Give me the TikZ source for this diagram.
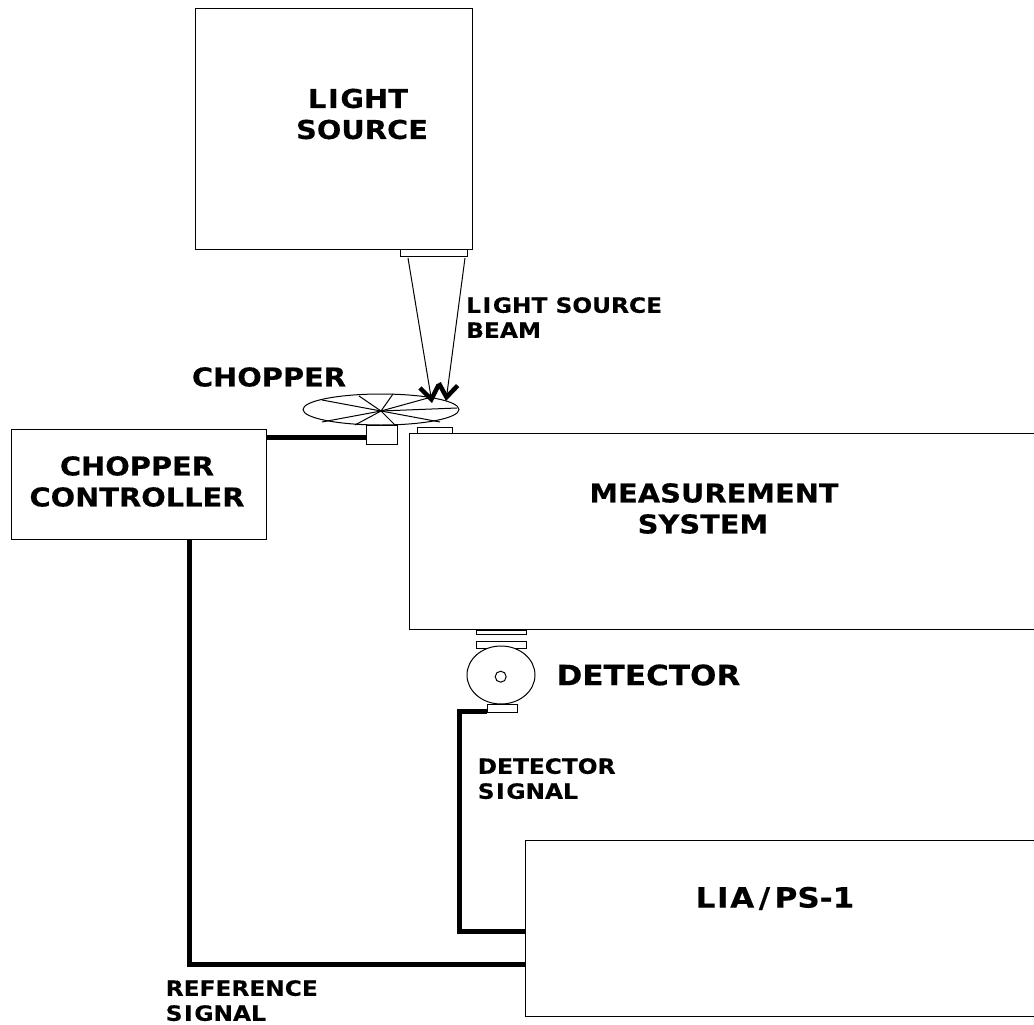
\documentclass[tikz,border=0pt]{standalone}
\usepackage{fontspec}
\setmainfont{DejaVu Sans}[FakeStretch=1.11,BoldFont={DejaVu Sans Bold},BoldFeatures={FakeBold=0.3}]
\usetikzlibrary{arrows.meta,shapes.geometric}
\newcommand{\Ik}{\kern1.6pt I\kern1.6pt }
\tikzset{
  x=1pt,y=-1pt,
  boxn/.style={draw=black,line width=1pt,fill=white,rectangle,inner sep=0pt,minimum width=#1},
  boxh/.style={minimum height=#1},
  roundn/.style={draw=black,line width=1pt,fill=white,ellipse,inner sep=0pt},
  biglabel/.style={font=\fontsize{26}{31}\selectfont\bfseries,align=center,inner sep=0pt},
  hugelabel/.style={font=\fontsize{28}{32}\selectfont\bfseries,align=center,inner sep=0pt},
  smalllabel/.style={font=\fontsize{21}{25}\selectfont\bfseries,align=left,inner sep=0pt,anchor=north west},
  wire/.style={line width=5pt,line cap=butt,line join=miter},
  beam/.style={line width=1pt,-{Straight Barb[length=13pt,width=19pt,line width=4.5pt]}},
  spoke/.style={line width=1pt}
}
\begin{document}
\begin{tikzpicture}
\useasboundingbox (0,0) rectangle (1034,1025);
% main boxes
\node[boxn=277pt,boxh=240pt] (source) at (333.5,129) {};
\node[boxn=255pt,boxh=110pt] (ctrl) at (138.5,484) {};
\node[boxn=640pt,boxh=196pt] (meas) at (729,531) {};
\node[boxn=524pt,boxh=176pt] (lia) at (787,928) {};
% labels
\node[biglabel] (tsource) at (362,114) {L\Ik GHT\hspace*{8pt}\\SOURCE};
\node[biglabel] (tctrl) at (137,481.5) {CHOPPER\\CONTROLLER};
\node[biglabel] (tmeas) at (714,508.5) {MEASUREMENT\\SYSTEM\hspace*{22pt}};
\node[hugelabel] (tlia) at (775,898.5) {L\Ik A\kern4.5pt/\kern4.5pt PS-1};
\node[biglabel] (tchop) at (269,377) {CHOPPER};
\node[hugelabel] (tdet) at (648.5,675) {DETECTOR};
\node[smalllabel] (tbeam) at (466,297) {L\Ik GHT SOURCE\\BEAM};
\node[smalllabel] (tdsig) at (477.5,758) {DETECTOR\\S\Ik GNAL};
\node[smalllabel] (trsig) at (165.5,980) {REFERENCE\\S\Ik GNAL};
% window of source
\node[boxn=67pt,boxh=7pt] (win) at (433.5,252.5) {};
% chopper
\node[roundn,minimum width=156pt,minimum height=31pt] (disc) at (381,409.5) {};
\coordinate (hub) at (381,411);
\foreach \a/\b in {322/400,359/396,393/394,428/398,457/408,440/422,395/425,355/425,322/422}{
  \draw[spoke] (hub) -- (\a,\b);
}
\node[boxn=31pt,boxh=19pt] (motor) at (381.5,434.5) {};
\node[boxn=35pt,boxh=6pt] (plate) at (434.5,430) {};
% beam
\coordinate (b1) at (408,258);
\coordinate (b2) at (465,258);
\coordinate (t1) at (432,403);
\coordinate (t2) at (446,401);
\draw[beam] (b1) -- (t1);
\draw[beam] (b2) -- (t2);
% detector
\node[boxn=50pt,boxh=4pt] (pl1) at (501,632) {};
\node[boxn=50pt,boxh=7pt] (pl2) at (501,644.5) {};
\node[roundn,minimum width=68pt,minimum height=58pt] (det) at (501,675) {};
\node[draw=black,line width=1pt,circle,minimum size=11pt,inner sep=0pt] (lens) at (500.7,676.7) {};
\node[boxn=30pt,boxh=8pt] (base) at (502,708) {};
% wires
\coordinate (cw) at (366,437.5);
\coordinate (d1) at (459,711);
\coordinate (d2) at (459,931);
\coordinate (r1) at (189,964);
\draw[wire] (ctrl.east |- cw) -- (motor.west |- cw);
\draw[wire] (base.west |- d1) -- (d1) -- (d2) -- (lia.west |- d2);
\draw[wire] (ctrl.south -| r1) -- (r1) -- (lia.west |- r1);
\end{tikzpicture}
\end{document}
